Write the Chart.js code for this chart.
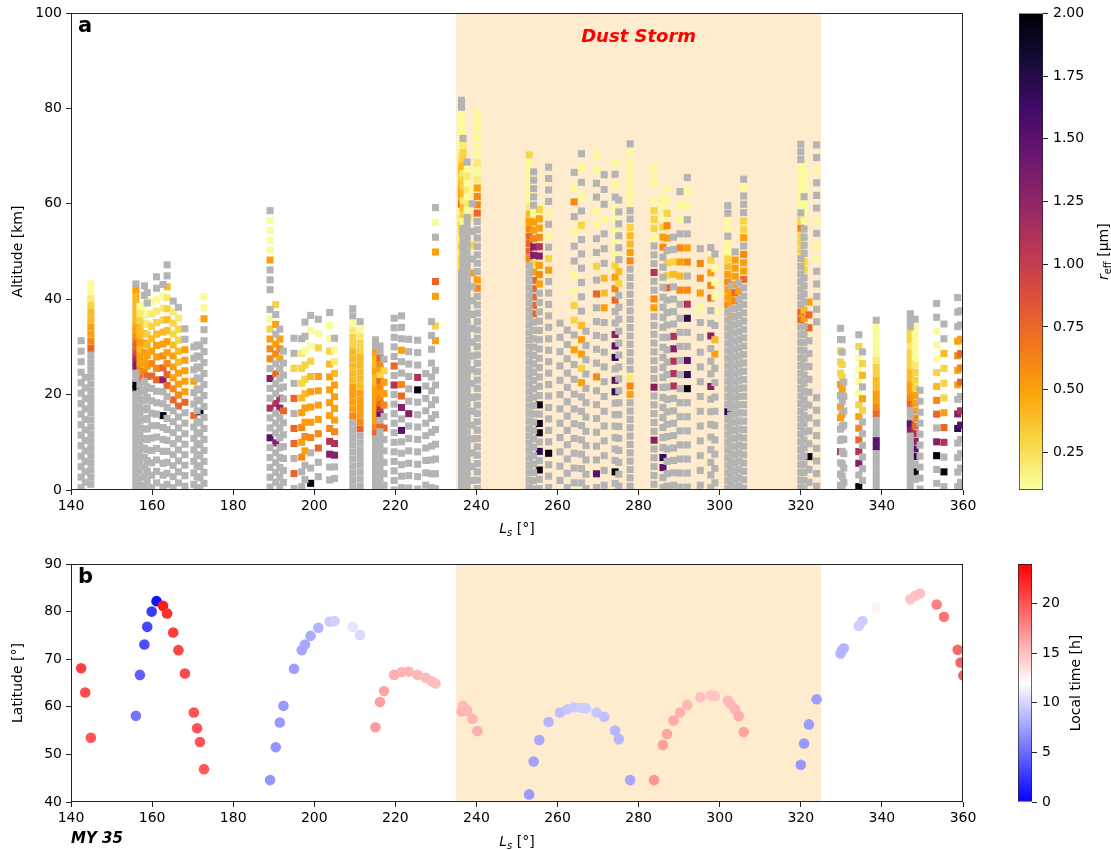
<!DOCTYPE html>
<html>
<head>
<meta charset="utf-8">
<script src="https://cdn.jsdelivr.net/npm/chart.js@4/dist/chart.umd.min.js"></script>
<style>
  body { margin: 0; background: #fff; width: 1111px; height: 850px; position: relative; overflow: hidden; }
  canvas { position: absolute; }
</style>
</head>
<body>
<canvas id="altChart" width="990" height="545" style="left:0;top:0;width:990px;height:545px"></canvas>
<canvas id="reffBar" width="121" height="545" style="left:990px;top:0;width:121px;height:545px"></canvas>
<canvas id="latChart" width="990" height="305" style="left:0;top:545px;width:990px;height:305px"></canvas>
<canvas id="ltBar" width="121" height="305" style="left:990px;top:545px;width:121px;height:305px"></canvas>
<script>
// occultations: solar longitude, latitude, local time
const occLs = [142.5, 143.5, 144.9, 156.0, 157.0, 158.1, 158.8, 159.9, 161.1, 162.7, 163.7, 165.2, 166.5, 168.1, 170.3, 171.1, 171.8, 172.8,
  189.1, 190.5, 191.5, 192.4, 195.0, 196.9, 197.7, 199.1, 201.0, 203.8, 205.0, 209.5, 211.3,
  215.1, 216.2, 217.2, 219.7, 221.5, 223.3, 225.5, 227.5, 228.9, 229.9, 236.3, 236.7, 237.7, 239.0, 240.2,
  253.0, 254.1, 255.5, 257.8, 260.6, 262.4, 264.1, 265.9, 267.0, 269.6, 271.5, 274.2, 275.1, 277.9,
  283.8, 286.0, 287.0, 288.6, 290.2, 292.0, 295.2, 297.8, 298.8, 302.0, 302.7, 303.8, 304.7, 305.9,
  320.0, 320.8, 322.0, 323.9, 329.8, 330.2, 330.6, 334.3, 335.2, 338.6,
  347.0, 348.2, 349.4, 353.5, 355.3, 358.7, 359.4, 360.1];
const occLat = [68.1, 63.0, 53.5, 58.1, 66.7, 73.1, 76.8, 80.0, 82.2, 81.2, 79.6, 75.6, 71.9, 67.0, 58.8, 55.5, 52.6, 46.9,
  44.6, 51.5, 56.7, 60.2, 68.0, 71.9, 73.1, 74.9, 76.6, 77.9, 78.0, 76.8, 75.1,
  55.7, 61.0, 63.3, 66.7, 67.3, 67.4, 66.7, 66.1, 65.4, 64.9, 59.0, 60.2, 59.2, 57.5, 54.9,
  41.6, 48.5, 53.0, 56.8, 58.8, 59.5, 59.9, 59.8, 59.7, 58.8, 57.9, 55.0, 53.2, 44.6,
  44.6, 52.0, 54.3, 57.1, 58.8, 60.4, 62.0, 62.4, 62.3, 61.3, 60.6, 59.5, 58.0, 54.7,
  47.8, 52.3, 56.3, 61.6, 71.2, 71.9, 72.3, 77.0, 78.0, 80.8,
  82.6, 83.3, 83.8, 81.5, 78.9, 72.0, 69.3, 66.6];
const occLT = [21.0, 20.4, 20.0, 5.5, 4.5, 3.6, 3.3, 2.8, 0.8, 22.8, 21.8, 21.2, 20.8, 20.5, 20.2, 20.1, 20.0, 19.8,
  7.0, 7.0, 7.2, 7.2, 7.4, 7.8, 7.9, 8.1, 8.4, 9.6, 9.8, 10.8, 10.3,
  16.7, 16.5, 16.3, 15.8, 15.6, 15.5, 15.4, 15.2, 15.1, 15.0, 15.5, 15.4, 15.4, 15.6, 15.8,
  7.3, 7.6, 8.0, 8.5, 9.0, 9.3, 9.5, 9.6, 9.6, 9.3, 9.1, 8.6, 8.5, 7.8,
  17.0, 16.5, 16.3, 16.0, 15.7, 15.3, 15.0, 14.8, 14.8, 15.2, 15.4, 15.6, 15.9, 16.4,
  7.1, 7.2, 7.4, 7.4, 8.4, 8.5, 8.5, 9.8, 9.6, 12.6,
  14.7, 14.8, 14.9, 18.0, 18.5, 19.2, 19.4, 19.5];

// vertical profiles: lowest level [km], level spacing [km], level codes bottom -> top
// '-' no r_eff (grey), '.' no data, letters = r_eff class (see rEffKeys), digits = repeat count
const profBase = [0.5, 1.6, 1.2, 0.3, 1.0, 0.8, 1.8, 0.5, 1.5, 0.6, 1.2, 0.5, 1.5, 0.8, 1.2, 0.5, 0.3, 1.4,
  0.6, 1.6, 0.6, 1.6, 0.3, 0.7, 2.2, 1.4, 2.8, 2.1, 2.4, 0.5, 0.8,
  0.3, 0.2, 1.0, 0.0, 0.5, 0.4, 0.2, 1.0, 0.5, 0.3, 0.5, 1.2, 0.6, 2.0, 0.3,
  0.5, 0.2, 0.3, 0.5, 2.0, 0.5, 1.5, 1.5, 0.3, 0.5, 1.0, 1.4, 0.8, 0.8,
  1.2, 0.5, 0.8, 1.0, 0.6, 0.6, 1.0, 0.5, 1.5, 0.4, 1.2, 0.6, 0.9, 0.4,
  0.5, 0.3, 1.6, 0.8, 1.0, 0.3, 1.6, 0.7, 2.0, 0.6,
  0.5, 2.2, 0.2, 1.4, 0.7, 0.7, 1.6, 1.0];
const profStep = [2.2, 2.2, 1.5, 1.1, 1.5, 2.0, 2.2, 2.6, 2.4, 2.5, 2.3, 2.3, 2.3, 2.2, 2.4, 2.3, 2.3, 2.3,
  2.07, 2.07, 2.07, 2.5, 3.15, 3.1, 3.0, 3.2, 3.0, 2.7, 2.45, 1.5, 1.5,
  1.3, 1.2, 2.4, 2.0, 2.4, 2.6, 2.6, 2.6, 2.9, 3.1, 1.45, 1.45, 1.45, 2.9, 1.75,
  1.55, 1.75, 1.95, 2.4, 3.0, 3.0, 3.1, 3.0, 3.0, 2.9, 3.1, 2.4, 2.5, 1.75,
  1.85, 2.1, 2.6, 2.6, 2.95, 2.95, 3.1, 2.65, 3.0, 1.6, 1.6, 1.7, 1.7, 1.75,
  1.6, 1.7, 2.7, 2.65, 2.35, 2.6, 3.0, 2.45, 2.45, 1.4,
  1.35, 1.6, 2.3, 2.9, 3.1, 3.05, 3.0, 3.0];
const profCode = ['-15', '-11', '-19hfeeddcbaa', '-19k2-2m2jih2fe2d6e-', '-15hfeededdcba', '-12feeedcba-2',
  '-10heedcba-2', '-9hfedcba', '-9hfeedcba-2', '-6k-2mhfedcba-', '-9hhfeeddcbd-2', '-8hfeeedccb-',
  '-7hfeeddccb-', '-8heeeee-2', '-6h-2e-3', '-14', '-7k-6', '-15eaa',
  '-5n-2j-2m-ffeca-.-3ea4-', '-4m-3j-2h-fe-e-c', '-8mj-3efe-', '-6h-5', '-h-hh-h-c-2', '-2fefedccb-',
  '-2efeedcca-2', 'k-2feeedcaa-', '-2hfeeee.ca-', '-2mjfeeeedcaa-', '-2mjfeeeedba-',
  '-10feeeedddddccba-2', '-8hfeeeedddddccba-',
  '-9hfeeeeeeddedde-2', '-11h-njhfefhcefh-2', '-5h-feec-', '-11j-h-5', '-5n-mhf-2e-3', '-6m-6',
  '-8kj-3', '-10', '-13', '-9.ec.eh.e-a-',
  '-32ccbcbccbaheedcdcbaaaaaa-2', '-38acdbdccbdccb-', '-40abababa-', '-15e-c-b-a', '-24fe-7hffebabaaaaaa',
  '-31fhhhfedbaaaaaac', '-21hhhhhecmmfeea-5', '-2k-p-kk-k-12efemjfeec', '-3k-15ec-a-a-4', '-12', '-12',
  '-9e-ccaa-2a-fa-', '-7eceed-6c-a-a-', '-12', '-n-6f-5h-c-2aa-2aa', '-12edd-3a-3',
  '-k-6pn-pnm-2hfecaaaaa-a-a', '-17cd-6', '-11efb-13feddc-2aaaaaaa-',
  '-5m-5m-8ef-2j-3accca.aaa', '-2np-20fecaaa', '-16hcc-efcaa', '-8jjjmj-4dc-2', '-14fdef-aa-',
  '-7kpn-2pjf-fe-2aa-', '-12aeff-', '-8m-3m-2hfec-', '-9ed-aaaa-', '-10p-13feefedcaa-aa-2',
  '-22e-ee-', '-23fheeee-', '-24e-', '-25heef-ecc-3a-',
  '-22hh-7cccfc-aaaaaa-3', '-21ed-4cc-4aaa-aaaa', '-2k-9hhe', '-8.5-5aa-a-3a-2',
  '-3j-2ee-eccc-2', '-6e-ecc-2', '-8', 'k-mjhfecaaaac-', '-6ce-dc-', '-6nn-3hfeeddccbaaaaa-',
  '-9mn-2hfeeddcccbcc-3', '-k-pnmjhfeeecccbaaaaa-', '-10', '-2km-hfdcaaa-2', '-k-jhecccd-2',
  '-4pm-eefe-3', '-4nj-hfhe-2', '-6'];
const rEffKeys = ['a', 'b', 'c', 'd', 'e', 'f', 'h', 'i', 'j', 'm', 'n', 'p', 'k'];
const rEffVals = [0.12, 0.2, 0.3, 0.4, 0.5, 0.6, 0.75, 0.9, 1.1, 1.3, 1.5, 1.7, 1.95];

const lsTicks = [140, 160, 180, 200, 220, 240, 260, 280, 300, 320, 340, 360];
const altTicks = [0, 20, 40, 60, 80, 100];
const latTicks = [40, 50, 60, 70, 80, 90];
const rEffTicks = [0.25, 0.5, 0.75, 1.0, 1.25, 1.5, 1.75, 2.0];
const ltTicks = [0, 5, 10, 15, 20];
const stormStart = 235, stormEnd = 325;

const FONT = "'DejaVu Sans', sans-serif";
Chart.defaults.font.family = FONT;
Chart.defaults.font.size = 14;
Chart.defaults.color = '#000';

// inferno colormap, sampled every 0.1
const infernoStops = [[0,0,4],[22,11,57],[66,10,104],[106,23,110],[147,38,103],[188,55,84],
  [221,81,58],[243,120,25],[252,165,10],[246,215,70],[252,255,164]];
function inferno(t) {
  t = Math.max(0, Math.min(1, t));
  const p = t * 10, i = Math.min(9, Math.floor(p)), f = p - i;
  const a = infernoStops[i], b = infernoStops[i + 1];
  return `rgb(${Math.round(a[0] + (b[0]-a[0])*f)},${Math.round(a[1] + (b[1]-a[1])*f)},${Math.round(a[2] + (b[2]-a[2])*f)})`;
}
function reffColor(v) { return inferno(1 - (v - 0.1) / 1.9); }
function bwr(v) {
  const t = Math.max(0, Math.min(1, v / 24));
  if (t < 0.5) { const c = Math.round(2 * t * 255); return `rgb(${c},${c},255)`; }
  const c = Math.round(2 * (1 - t) * 255);
  return `rgb(255,${c},${c})`;
}

function expand(code) {
  const out = [];
  let i = 0;
  while (i < code.length) {
    const ch = code[i++];
    let num = '';
    while (i < code.length && /[0-9]/.test(code[i])) num += code[i++];
    const n = num ? parseInt(num) : 1;
    for (let k = 0; k < n; k++) out.push(ch);
  }
  return out;
}

const greyPts = [], reffPts = [];
occLs.forEach((ls, i) => {
  expand(profCode[i]).forEach((ch, j) => {
    if (ch === '.') return;
    const alt = +(profBase[i] + j * profStep[i]).toFixed(2);
    if (ch === '-') greyPts.push({x: ls, y: alt});
    else reffPts.push({x: ls, y: alt, reff: rEffVals[rEffKeys.indexOf(ch)]});
  });
});
const occPts = occLs.map((x, i) => ({x: x, y: occLat[i], lt: occLT[i]}));

function drawLsTitle(ctx, cx, y) {
  const f1 = 'italic 14px ' + FONT, f2 = 'italic 10px ' + FONT, f3 = '14px ' + FONT;
  ctx.font = f1; const w1 = ctx.measureText('L').width;
  ctx.font = f2; const w2 = ctx.measureText('s').width;
  ctx.font = f3; const w3 = ctx.measureText(' [°]').width;
  let x = cx - (w1 + w2 + w3) / 2;
  ctx.textAlign = 'left'; ctx.textBaseline = 'alphabetic'; ctx.fillStyle = '#000';
  ctx.font = f1; ctx.fillText('L', x, y); x += w1;
  ctx.font = f2; ctx.fillText('s', x, y + 3); x += w2;
  ctx.font = f3; ctx.fillText(' [°]', x, y);
}

function panelDecor(opt) {
  return {
    id: 'decor',
    beforeDatasetsDraw(chart) {
      const {ctx, chartArea: a, scales: {x}} = chart;
      const x0 = x.getPixelForValue(stormStart), x1 = x.getPixelForValue(stormEnd);
      ctx.save();
      ctx.fillStyle = '#ffebcd';
      ctx.fillRect(x0, a.top, x1 - x0, a.bottom - a.top);
      ctx.restore();
    },
    afterDraw(chart) {
      const {ctx, chartArea: a, scales: {x}} = chart;
      ctx.save();
      ctx.strokeStyle = '#222';
      ctx.lineWidth = 1;
      ctx.strokeRect(a.left + 0.5, a.top + 0.5, a.right - a.left - 1, a.bottom - a.top - 1);
      ctx.fillStyle = '#000';
      ctx.textAlign = 'left';
      ctx.textBaseline = 'alphabetic';
      ctx.font = 'bold 21px ' + FONT;
      ctx.fillText(opt.letter, 78, a.top + 19);
      if (opt.storm) {
        ctx.font = 'italic bold 18px ' + FONT;
        ctx.fillStyle = '#ff0000';
        ctx.textAlign = 'center';
        ctx.fillText('Dust Storm', x.getPixelForValue(280), a.top + 28.5);
      }
      if (opt.year) {
        ctx.font = 'italic bold 15px ' + FONT;
        ctx.fillStyle = '#000';
        ctx.textAlign = 'left';
        ctx.fillText(opt.year, 71, chart.height - 7);
      }
      drawLsTitle(ctx, (a.left + a.right) / 2, chart.height - opt.titleOff);
      ctx.restore();
    }
  };
}

function lsAxis(h) {
  return {
    type: 'linear', min: 140, max: 360,
    afterBuildTicks: s => { s.ticks = lsTicks.map(v => ({value: v})); },
    afterFit: s => { s.height = h; },
    grid: {drawOnChartArea: false, drawTicks: true, tickLength: 5, color: '#222'},
    border: {display: false},
    ticks: {padding: 3, autoSkip: false, maxRotation: 0}
  };
}
function leftAxis(min, max, ticks, title) {
  return {
    type: 'linear', min: min, max: max,
    afterBuildTicks: s => { s.ticks = ticks.map(v => ({value: v})); },
    afterFit: s => { s.width = 71; },
    grid: {drawOnChartArea: false, drawTicks: true, tickLength: 5, color: '#222'},
    border: {display: false},
    ticks: {padding: 4, autoSkip: false},
    title: {display: true, text: title, font: {size: 14}, padding: {top: 9.6, bottom: 0}}
  };
}

new Chart(document.getElementById('altChart'), {
  type: 'scatter',
  data: {
    datasets: [
      {data: greyPts, pointStyle: 'rect', pointRadius: 5, backgroundColor: '#b4b4b4', borderWidth: 0},
      {data: reffPts, pointStyle: 'rect', pointRadius: 5, borderWidth: 0,
        backgroundColor: c => c.raw ? reffColor(c.raw.reff) : '#000'}
    ]
  },
  options: {
    responsive: false, animation: false, events: [],
    layout: {padding: {top: 13, right: 27, left: 0, bottom: 0}},
    plugins: {legend: {display: false}, tooltip: {enabled: false}},
    scales: {x: lsAxis(55), y: leftAxis(0, 100, altTicks, 'Altitude [km]')}
  },
  plugins: [panelDecor({letter: 'a', storm: true, titleOff: 12})]
});

new Chart(document.getElementById('latChart'), {
  type: 'scatter',
  data: {
    datasets: [
      {data: occPts, pointStyle: 'circle', pointRadius: 5.3, borderWidth: 0,
        backgroundColor: c => c.raw ? bwr(c.raw.lt) : '#000'}
    ]
  },
  options: {
    responsive: false, animation: false, events: [],
    layout: {padding: {top: 19, right: 27, left: 0, bottom: 0}},
    plugins: {legend: {display: false}, tooltip: {enabled: false}},
    scales: {x: lsAxis(48), y: leftAxis(40, 90, latTicks, 'Latitude [°]')}
  },
  plugins: [panelDecor({letter: 'b', year: 'MY 35', titleOff: 4})]
});

// colour bars
function colorBar(id, opt) {
  const gradFill = c => {
    const a = c.chart.chartArea;
    if (!a) return '#888';
    const g = c.chart.ctx.createLinearGradient(0, a.bottom, 0, a.top);
    for (let i = 0; i <= 40; i++) {
      const v = opt.min + (opt.max - opt.min) * i / 40;
      g.addColorStop(i / 40, opt.cmap(v));
    }
    return g;
  };
  new Chart(document.getElementById(id), {
    type: 'bar',
    data: {labels: ['cb'], datasets: [{data: [[opt.min, opt.max]], backgroundColor: gradFill,
      borderColor: '#222', borderWidth: 1, borderSkipped: false, barPercentage: 1, categoryPercentage: 1}]},
    options: {
      responsive: false, animation: false, events: [],
      layout: {padding: {top: opt.top, bottom: opt.bottom, left: opt.left, right: 0}},
      plugins: {legend: {display: false}, tooltip: {enabled: false}},
      scales: {
        x: {display: false},
        y: {
          position: 'right', min: opt.min, max: opt.max,
          afterBuildTicks: s => { s.ticks = opt.ticks.map(v => ({value: v})); },
          afterFit: s => { s.width = opt.axisW; },
          grid: {drawOnChartArea: false, drawTicks: true, tickLength: 5, color: '#222'},
          border: {display: false},
          ticks: {padding: 5, autoSkip: false, callback: opt.fmt}
        }
      }
    },
    plugins: [{
      id: 'cbTitle',
      afterDraw(chart) {
        const {ctx, chartArea: a} = chart;
        ctx.save();
        ctx.translate(opt.titleX, (a.top + a.bottom) / 2);
        ctx.rotate(-Math.PI / 2);
        ctx.fillStyle = '#000';
        ctx.textBaseline = 'alphabetic';
        ctx.textAlign = 'left';
        const parts = opt.title;
        let w = 0;
        parts.forEach(p => { ctx.font = p.font; w += ctx.measureText(p.t).width; });
        let x = -w / 2;
        parts.forEach(p => { ctx.font = p.font; ctx.fillText(p.t, x, 5 + (p.dy || 0)); x += ctx.measureText(p.t).width; });
        ctx.restore();
      }
    }]
  });
}

colorBar('reffBar', {
  min: 0.1, max: 2.0, ticks: rEffTicks, cmap: reffColor, fmt: v => v.toFixed(2),
  top: 13, bottom: 55, left: 29, axisW: 68, titleX: 113,
  title: [{t: 'r', font: 'italic 14px ' + FONT}, {t: 'eff', font: '10px ' + FONT, dy: 3}, {t: ' [μm]', font: '14px ' + FONT}]
});
colorBar('ltBar', {
  min: 0, max: 24, ticks: ltTicks, cmap: bwr, fmt: v => String(v),
  top: 19, bottom: 48, left: 28, axisW: 79, titleX: 85,
  title: [{t: 'Local time [h]', font: '14px ' + FONT}]
});
</script>
</body>
</html>
